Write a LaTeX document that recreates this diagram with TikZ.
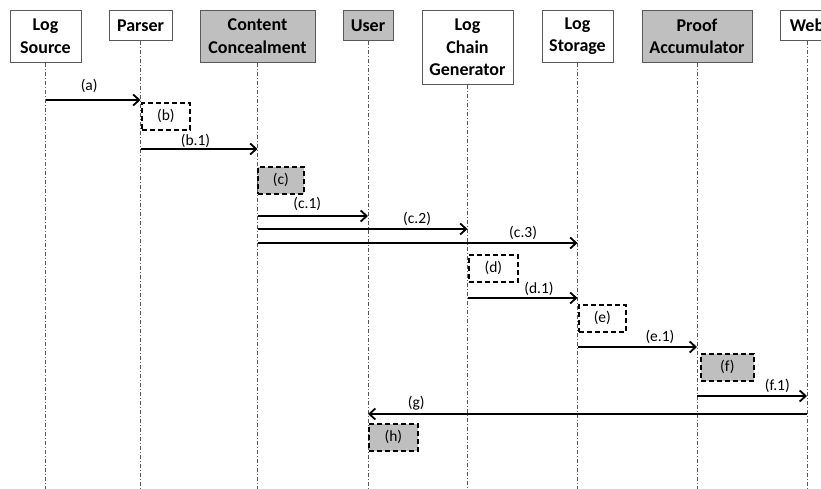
\documentclass[tikz,border=0pt]{standalone}
\usepackage{fontspec}
\setmainfont{Carlito}
\usetikzlibrary{arrows.meta}

\begin{document}
\begin{tikzpicture}[x=1pt,y=-1pt,
        actor/.style={draw=gray!70!black,line width=0.8pt,fill=white,anchor=north,align=center,
            font=\fontsize{18}{22.5}\selectfont\bfseries,minimum height=30pt,inner xsep=0pt},
        shaded/.style={fill=gray!50},
        life/.style={gray!70!black,line width=0.6pt,dash pattern=on 4pt off 2pt on 1pt off 2pt},
        msg/.style={line width=1.8pt,-{Straight Barb[length=6pt,width=11pt]}},
        act/.style={draw,line width=1.7pt,dash pattern=on 5pt off 3pt,anchor=north west,inner sep=0pt,
            minimum height=27pt,font=\fontsize{15.5}{18}\selectfont},
        lbl/.style={font=\fontsize{15.5}{18}\selectfont,anchor=base,inner sep=0pt,yshift=6pt}]
    \clip (0,0) rectangle (821,489);
    \coordinate (bot) at (0,489);
    %participants
    \node[actor,minimum width=71pt,minimum height=52pt] (src) at (45.5,10) {Log\\Source};
    \node[actor,minimum width=63pt] (prs) at (140.5,10) {Parser};
    \node[actor,shaded,minimum width=115pt,minimum height=52pt] (cc) at (257.5,10) {Content\\Concealment};
    \node[actor,shaded,minimum width=50pt] (usr) at (368,10) {User};
    \node[actor,minimum width=91pt,minimum height=74pt] (lcg) at (467.5,10) {Log\\Chain\\Generator};
    \node[actor,minimum width=71pt,minimum height=52pt] (lst) at (577.5,10) {Log\\Storage};
    \node[actor,shaded,minimum width=110pt,minimum height=52pt] (pa) at (697,10) {Proof\\Accumulator};
    \node[actor,minimum width=54pt] (web) at (807,10) {Web};
    %lifelines
    \foreach \n in {src,prs,cc,usr,lcg,lst,pa,web}
        \draw[life] (\n.south) -- (\n.south |- bot);
    %(a),(b)
    \draw[msg] (src.south |- 0,100) -- (prs.south |- 0,100)
        node[lbl,pos=.46,yshift=3pt] {(a)};
    \node[act,minimum width=48pt] (b) at (141,102) {(b)};
    \draw[msg] (prs.south |- 0,149) -- (cc.south |- 0,149)
        node[lbl,pos=.47,yshift=-2.5pt] {(b.1)};
    %(c)
    \node[act,shaded,minimum width=46pt] (c) at (257,166) {(c)};
    \draw[msg] (cc.south |- 0,216) -- (usr.south |- 0,216)
        node[lbl,pos=.45,yshift=2pt] {(c.1)};
    \draw[msg] (cc.south |- 0,229) -- (lcg.south |- 0,229)
        node[lbl,pos=.76] {(c.2)};
    \draw[msg] (cc.south |- 0,243) -- (lst.south |- 0,243)
        node[lbl,pos=.83] {(c.3)};
    %(d)
    \node[act,minimum width=49pt] (d) at (468,254) {(d)};
    \draw[msg] (lcg.south |- 0,298) -- (lst.south |- 0,298)
        node[lbl,pos=.65,yshift=-1pt] {(d.1)};
    %(e)
    \node[act,minimum width=47pt] (e) at (578,304) {(e)};
    \draw[msg] (lst.south |- 0,347) -- (pa.south |- 0,347)
        node[lbl,pos=.69] {(e.1)};
    %(f)
    \node[act,shaded,minimum width=53pt] (f) at (700,353) {(f)};
    \draw[msg] (pa.south |- 0,396) -- (web.south |- 0,396)
        node[lbl,pos=.73] {(f.1)};
    %(g),(h)
    \draw[msg] (web.south |- 0,414) -- (usr.south |- 0,414)
        node[lbl,pos=.89,yshift=1pt] {(g)};
    \node[act,shaded,minimum width=49pt] (h) at (368,423) {(h)};
\end{tikzpicture}
\end{document}
